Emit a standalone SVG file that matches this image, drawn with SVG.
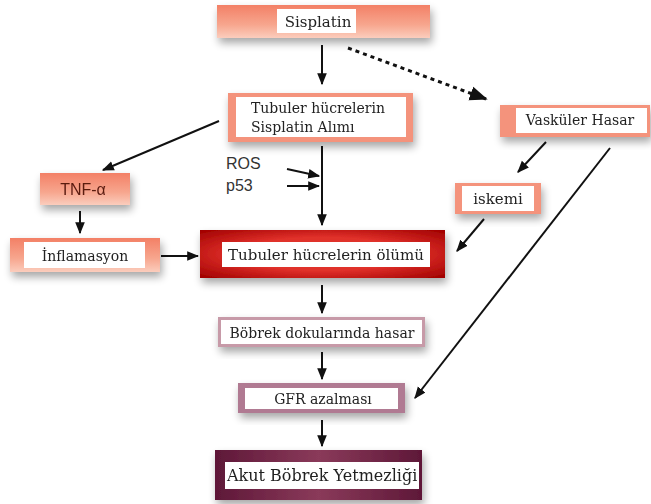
<svg xmlns="http://www.w3.org/2000/svg" width="651" height="504" viewBox="0 0 651 504">
<defs>
<linearGradient id="salmon" x1="0" y1="0" x2="0" y2="1">
<stop offset="0" stop-color="#f38066"/>
<stop offset="0.6" stop-color="#f7a68e"/>
<stop offset="1" stop-color="#fbcdbd"/>
</linearGradient>
<radialGradient id="red" cx="0.5" cy="0.5" r="0.7">
<stop offset="0.5" stop-color="#e0302a"/>
<stop offset="1" stop-color="#a00000"/>
</radialGradient>
<linearGradient id="purple" x1="0" y1="0" x2="1" y2="0">
<stop offset="0" stop-color="#5e1838"/>
<stop offset="0.5" stop-color="#8a3a5a"/>
<stop offset="1" stop-color="#5e1838"/>
</linearGradient>
<filter id="sh" x="-20%" y="-30%" width="140%" height="170%">
<feGaussianBlur in="SourceAlpha" stdDeviation="4"/>
<feOffset dx="2" dy="5" result="b"/>
<feComponentTransfer><feFuncA type="linear" slope="0.35"/></feComponentTransfer>
<feMerge><feMergeNode/><feMergeNode in="SourceGraphic"/></feMerge>
</filter>
<marker id="ah" viewBox="0 0 10 10" refX="9" refY="5" markerWidth="6" markerHeight="6" orient="auto" markerUnits="strokeWidth">
<path d="M0,1 L10,5 L0,9 z" fill="#111"/>
</marker>
</defs>
<style>
.t{font-family:"DejaVu Serif","Liberation Serif",serif;font-size:14px;fill:#222}
.t15{font-size:15px}
.t16{font-size:16px}
.s{font-family:"Liberation Sans",Arial,sans-serif;font-size:16px;fill:#333}
.w{fill:#fff}
.c{stroke:#111;stroke-width:2;fill:none;marker-end:url(#ah)}
</style>
<g id="connectors">
<line class="c" x1="322" y1="45" x2="322" y2="84"/>
<line x1="348" y1="48" x2="486" y2="99" stroke="#111" stroke-width="3" stroke-dasharray="4,4" fill="none" marker-end="url(#ah)"/>
<line class="c" x1="322" y1="146" x2="322" y2="225"/>
<line class="c" x1="219" y1="121" x2="103" y2="170"/>
<line class="c" x1="287" y1="169" x2="319" y2="176"/>
<line class="c" x1="287" y1="186" x2="319" y2="186"/>
<line class="c" x1="80" y1="211" x2="80" y2="233"/>
<line class="c" x1="161" y1="256" x2="198" y2="256"/>
<line class="c" x1="322" y1="285" x2="322" y2="313"/>
<line class="c" x1="322" y1="352" x2="322" y2="379"/>
<line class="c" x1="322" y1="420" x2="322" y2="446"/>
<line class="c" x1="546" y1="142" x2="518" y2="172"/>
<line class="c" x1="610" y1="148" x2="415" y2="398"/>
<line class="c" x1="484" y1="219" x2="457" y2="251"/>
</g>
<g id="sisplatin" filter="url(#sh)">
<rect x="217" y="5" width="213" height="33" fill="url(#salmon)"/>
<rect x="277" y="9" width="79" height="24" class="w"/>
<text class="t t15" x="318" y="27" text-anchor="middle">Sisplatin</text>
</g>
<g id="alim" filter="url(#sh)">
<rect x="228" y="93" width="185" height="49" fill="#f4937c"/>
<rect x="236" y="97" width="170" height="40" class="w"/>
<text class="t" x="251" y="113">Tubuler hücrelerin</text>
<text class="t" x="251" y="132">Sisplatin Alımı</text>
</g>
<g id="ros">
<text class="s" x="226" y="169">ROS</text>
<text class="s" x="226" y="191">p53</text>
</g>
<g id="tnf" filter="url(#sh)">
<rect x="40" y="173" width="90" height="32" fill="url(#salmon)"/>
<text class="s" x="83" y="195" text-anchor="middle" style="fill:#5a1a10">TNF-α</text>
</g>
<g id="inflamasyon" filter="url(#sh)">
<rect x="10" y="238" width="150" height="34" fill="url(#salmon)"/>
<rect x="24" y="242" width="121" height="26" class="w"/>
<text class="t" x="85" y="261" text-anchor="middle">İnflamasyon</text>
</g>
<g id="olum" filter="url(#sh)">
<rect x="200" y="230" width="245" height="48" fill="url(#red)"/>
<rect x="222" y="242" width="208" height="25" class="w"/>
<text class="t t15" x="326" y="260" text-anchor="middle">Tubuler hücrelerin ölümü</text>
</g>
<g id="hasar" filter="url(#sh)">
<rect x="218" y="317" width="207" height="30" fill="#c79aa8"/>
<rect x="221" y="320" width="201" height="24" class="w"/>
<text class="t" x="322" y="338" text-anchor="middle">Böbrek dokularında hasar</text>
</g>
<g id="gfr" filter="url(#sh)">
<rect x="238" y="383" width="167" height="30" fill="#b07a92"/>
<rect x="245" y="388" width="153" height="21" class="w"/>
<text class="t" x="323" y="404" text-anchor="middle">GFR azalması</text>
</g>
<g id="abY" filter="url(#sh)">
<rect x="215" y="450" width="207" height="50" fill="url(#purple)"/>
<rect x="225" y="462" width="194" height="27" class="w"/>
<text class="t t16" x="227" y="481">Akut Böbrek Yetmezliği</text>
</g>
<g id="vaskuler" filter="url(#sh)">
<rect x="500" y="105" width="150" height="32" fill="#f4937c"/>
<rect x="516" y="108" width="131" height="25" class="w"/>
<text class="t" x="580" y="125" text-anchor="middle">Vasküler Hasar</text>
</g>
<g id="iskemi" filter="url(#sh)">
<rect x="455" y="183" width="86" height="31" fill="#f4937c"/>
<rect x="462" y="186" width="72" height="25" class="w"/>
<text class="t t15" x="498" y="204" text-anchor="middle">iskemi</text>
</g>
</svg>
